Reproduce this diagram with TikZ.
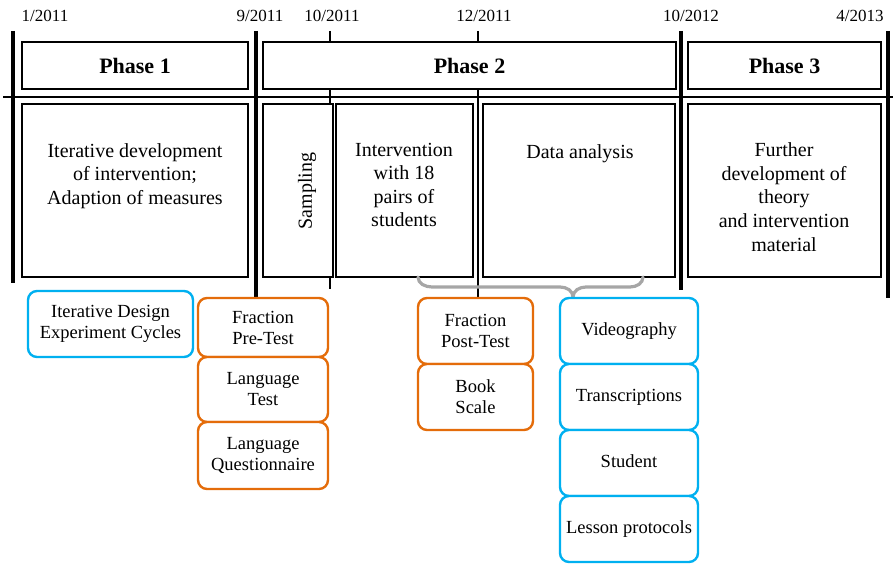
\documentclass[tikz,border=0pt]{standalone}
\usepackage{fontspec}
\setmainfont{Liberation Serif}
\definecolor{orng}{RGB}{228,108,10}
\definecolor{cyn}{RGB}{0,176,240}
\definecolor{brgray}{RGB}{166,166,166}
\begin{document}
\begin{tikzpicture}[x=1pt,y=-1pt,
  datelbl/.style={font=\fontsize{17}{20}\selectfont, inner sep=0pt},
  phasebox/.style={draw=black, line width=1.8pt, fill=white, inner sep=0pt,
    font=\bfseries\fontsize{22}{26}\selectfont},
  contbox/.style={draw=black, line width=1.8pt, fill=white, inner sep=0pt},
  conttext/.style={align=center, inner sep=0pt, font=\fontsize{20}{23.6}\selectfont},
  thickline/.style={line width=3.4pt},
  thinline/.style={line width=1.4pt},
  obox/.style={draw=orng, line width=2.4pt, rounded corners=9pt, fill=white,
    align=center, inner sep=0pt, font=\fontsize{18.5}{21}\selectfont},
  cbox/.style={draw=cyn, line width=2.4pt, rounded corners=9pt, fill=white,
    align=center, inner sep=0pt, font=\fontsize{18.5}{21}\selectfont},
  bracestyle/.style={draw=brgray, line width=3.2pt, line cap=round}
]
\useasboundingbox (0,0) rectangle (893,564);

% dates
\node[datelbl] (d1) at (45,16) {1/2011};
\node[datelbl] (d2) at (260,16) {9/2011};
\node[datelbl] (d3) at (332,16) {10/2011};
\node[datelbl] (d4) at (484,16) {12/2011};
\node[datelbl] (d5) at (691,16) {10/2012};
\node[datelbl] (d6) at (860,16) {4/2013};

% timeline coordinates
\coordinate (t1a) at (13,31);  \coordinate (t1b) at (13,283);
\coordinate (t2a) at (256,31); \coordinate (t2b) at (256,297);
\coordinate (t3a) at (681,31); \coordinate (t3b) at (681,290);
\coordinate (t4a) at (888,31); \coordinate (t4b) at (888,298);
\coordinate (s1a) at (330,31); \coordinate (s1b) at (330,289);
\coordinate (s2a) at (478,31); \coordinate (s2b) at (478,298);
\coordinate (ha) at (3,97);    \coordinate (hb) at (893,97);

\draw[thinline] (s1a) -- (s1b);
\draw[thinline] (s2a) -- (s2b);
\draw[line width=2pt] (ha) -- (hb);
\draw[thickline] (t1a) -- (t1b);
\draw[thickline] (t2a) -- (t2b);
\draw[thickline] (t3a) -- (t3b);
\draw[thickline] (t4a) -- (t4b);

% phase boxes
\node[phasebox, minimum width=226, minimum height=47] (p1) at (135,65.5) {Phase 1};
\node[phasebox, minimum width=413, minimum height=47] (p2) at (469.5,65.5) {Phase 2};
\node[phasebox, minimum width=193, minimum height=47] (p3) at (784.5,65.5) {Phase 3};

% content boxes
\node[contbox, minimum width=226, minimum height=173] (c1) at (135,190.5) {};
\node[contbox, minimum width=70, minimum height=173] (c2) at (298,190.5) {};
\node[contbox, minimum width=137, minimum height=173] (c3) at (404.5,190.5) {};
\node[contbox, minimum width=192, minimum height=173] (c4) at (579,190.5) {};
\node[contbox, minimum width=193, minimum height=173] (c5) at (784.5,190.5) {};

\node[conttext] (c1t) at (135,176) {Iterative development\\of intervention;\\Adaption of measures};
\node[conttext, rotate=90] (c2t) at (307,191) {Sampling};
\node[conttext] (c3t) at (404,185) {Intervention\\with 18\\pairs of\\students};
\node[conttext] (c4t) at (580,154) {Data analysis};
\node[conttext] (c5t) at (784,197) {Further\\development of\\theory\\and intervention\\material};

% brace
\coordinate (bl) at (418,277);
\coordinate (bt) at (573,297);
\coordinate (br) at (643,277);
\draw[bracestyle] (bl) to[out=-90,in=180] (432,287) -- (560,287) to[out=0,in=90] (bt);
\draw[bracestyle] (bt) to[out=90,in=180] (586,287) -- (630,287) to[out=0,in=-90] (br);

% measure boxes
\node[cbox, minimum width=165, minimum height=66] (ide) at (110.5,324) {Iterative Design\\Experiment Cycles};

\node[obox, minimum width=130, minimum height=59] (fpre) at (263,327.5) {Fraction\\Pre-Test};
\node[obox, minimum width=130, minimum height=65] (lt) at (263,389.5) {Language\\Test};
\node[obox, minimum width=130, minimum height=67] (lq) at (263,455.5) {Language\\Questionnaire};

\node[obox, minimum width=115, minimum height=66] (fpost) at (475.5,331) {Fraction\\Post-Test};
\node[obox, minimum width=115, minimum height=66] (bs) at (475.5,397) {Book\\Scale};

\node[cbox, minimum width=138, minimum height=66] (vid) at (629,331) {\strut Videography};
\node[cbox, minimum width=138, minimum height=66] (tr) at (629,397) {\strut Transcriptions};
\node[cbox, minimum width=138, minimum height=66] (st) at (629,463) {\strut Student};
\node[cbox, minimum width=138, minimum height=66] (lp) at (629,529) {\strut Lesson protocols};
\end{tikzpicture}
\end{document}
